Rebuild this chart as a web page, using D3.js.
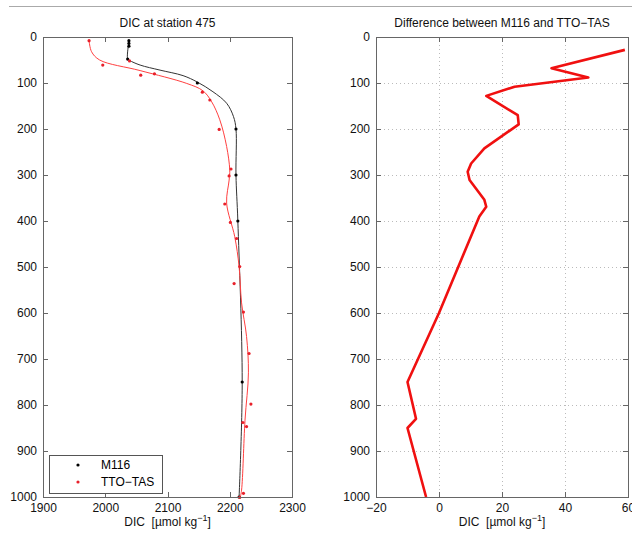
<!DOCTYPE html>
<meta charset="utf-8">
<style>
  body {
    margin: 0;
    background: #fff;
    font-family: 'Liberation Sans', Arial, sans-serif;
  }

  .axis path,
  .axis line {
    fill: none;
    stroke: #666;
    stroke-width: 1;
    shape-rendering: crispEdges;
  }

  .axis text {
    font-size: 12px;
    fill: #111;
  }

  .grid line {
    stroke: #bbb;
    stroke-dasharray: 1, 3;
    shape-rendering: crispEdges;
  }

  .title,
  .axisLabel {
    font-size: 12px;
    fill: #111;
  }
</style>

<body>
  <div id="d3id"></div>
  <script src="https://cdn.jsdelivr.net/npm/d3@7"></script>

  <script>
    // data
    // M116 bottle samples (depth m, DIC umol/kg)
    var m116Depth = [8, 14, 20, 48, 100, 200, 300, 400, 750, 1000];
    var m116DIC = [2038, 2038, 2038, 2036, 2148, 2210, 2210, 2213, 2220, 2215];

    // M116 profile line
    var m116LineDepth = [20, 48, 51, 61, 72, 84, 98, 119, 144, 173, 200, 300, 400, 750, 1000];
    var m116LineDIC = [2037, 2036, 2039, 2056, 2088, 2125, 2148, 2173, 2195, 2206, 2210, 2210, 2213, 2220, 2215];

    // TTO-TAS samples
    var ttoDepth = [8, 52, 61, 80, 83, 120, 137, 201, 287, 302, 363, 403, 438, 499, 536, 598, 688, 798, 838, 847, 992, 1001];
    var ttoDIC = [1974, 2039, 1996, 2079, 2057, 2156, 2168, 2183, 2202, 2199, 2192, 2201, 2211, 2216, 2207, 2222, 2231, 2234, 2221, 2227, 2222, 2216];

    // TTO-TAS smoothed profile line
    var ttoLineDepth = [8, 32, 50, 73, 101, 117, 141, 180, 238, 289, 311, 361, 434, 499, 578, 651, 730, 833, 985, 1000];
    var ttoLineDIC = [1974, 1978, 1991, 2056, 2131, 2157, 2171, 2184, 2195, 2200, 2199, 2195, 2208, 2215, 2219, 2227, 2230, 2224.5, 2219, 2217];

    // difference M116 - TTO-TAS
    var diffDepth = [28, 68, 88, 108, 128, 170, 190, 242, 275, 293, 311, 354, 369, 390, 600, 750, 830, 850, 1000];
    var diffDIC = [59, 35.7, 47.4, 24, 15, 25, 25.3, 14.4, 10.2, 9.1, 9.7, 14.4, 15, 12.8, 0, -10, -7.3, -10, -4.1];

    // ticks
    var depthTicks = [0, 100, 200, 300, 400, 500, 600, 700, 800, 900, 1000];
    var dicTicks = [1900, 2000, 2100, 2200, 2300];
    var diffTicks = [-20, 0, 20, 40, 60];

    var width = 632;
    var height = 540;

    var svg = d3.select('#d3id')
      .append("svg")
      .attr("width", width)
      .attr("height", height);

    // frame line along the top of the figure
    svg.append("line")
      .attr("x1", 9).attr("x2", width)
      .attr("y1", 6.5).attr("y2", 6.5)
      .attr("stroke", "#aaa");

    var plotTop = 37, plotBottom = 497;
    var yScale = d3.scaleLinear().domain([0, 1000]).range([plotTop, plotBottom]);
    var xLeft = d3.scaleLinear().domain([1900, 2300]).range([43, 292]);
    var xRight = d3.scaleLinear().domain([-20, 60]).range([376, 628]);
    var fmt = d3.format("d");

    function pts(ds, vs) {
      return ds.map((d, i) => ({ d: d, v: vs[i] }));
    }

    function drawBox(xScale, ticks) {
      // left axis with labels
      svg.append("g")
        .attr("class", "axis")
        .attr("transform", `translate(${xScale.range()[0]},0)`)
        .call(d3.axisLeft(yScale).tickValues(depthTicks).tickFormat(fmt).tickSizeInner(-5).tickSizeOuter(0).tickPadding(6));
      // right axis, no labels
      svg.append("g")
        .attr("class", "axis")
        .attr("transform", `translate(${xScale.range()[1]},0)`)
        .call(d3.axisRight(yScale).tickValues(depthTicks).tickSizeInner(-5).tickSizeOuter(0).tickFormat(""));
      // bottom axis
      svg.append("g")
        .attr("class", "axis")
        .attr("transform", `translate(0,${plotBottom})`)
        .call(d3.axisBottom(xScale).tickValues(ticks).tickFormat(d => fmt(d).replace("-", "\u2212")).tickSizeInner(-5).tickSizeOuter(0).tickPadding(6));
      // top axis
      svg.append("g")
        .attr("class", "axis")
        .attr("transform", `translate(0,${plotTop})`)
        .call(d3.axisTop(xScale).tickValues(ticks).tickSizeInner(-5).tickSizeOuter(0).tickFormat(""));
    }

    function addLabels(xScale, title) {
      var cx = (xScale.range()[0] + xScale.range()[1]) / 2;
      svg.append("text")
        .attr("class", "title")
        .attr("x", cx)
        .attr("y", 27)
        .attr("text-anchor", "middle")
        .text(title);

      var lab = svg.append("text")
        .attr("class", "axisLabel")
        .attr("x", cx)
        .attr("y", 526)
        .attr("text-anchor", "middle");
      lab.append("tspan").text("DIC\u00a0\u00a0[\u00b5mol kg");
      lab.append("tspan").attr("dy", -5).style("font-size", "9px").text("\u22121");
      lab.append("tspan").attr("dy", 5).text("]");
    }

    // ---------- left panel ----------
    var lineLeft = d3.line()
      .x(p => xLeft(p.v))
      .y(p => yScale(p.d))
      .curve(d3.curveCatmullRom);

    svg.append("path")
      .datum(pts(m116LineDepth, m116LineDIC))
      .attr("d", lineLeft)
      .attr("fill", "none")
      .attr("stroke", "#333")
      .attr("stroke-width", 1);

    svg.append("path")
      .datum(pts(ttoLineDepth, ttoLineDIC))
      .attr("d", lineLeft)
      .attr("fill", "none")
      .attr("stroke", "#ff4040")
      .attr("stroke-width", 1);

    svg.selectAll(".dot.m116")
      .data(pts(m116Depth, m116DIC))
      .enter().append("circle")
      .attr("class", "dot m116")
      .attr("cx", p => xLeft(p.v))
      .attr("cy", p => yScale(p.d))
      .attr("r", 1.6)
      .attr("fill", "#000");

    svg.selectAll(".dot.tto")
      .data(pts(ttoDepth, ttoDIC))
      .enter().append("circle")
      .attr("class", "dot tto")
      .attr("cx", p => xLeft(p.v))
      .attr("cy", p => yScale(p.d))
      .attr("r", 1.6)
      .attr("fill", "#e8202a");

    drawBox(xLeft, dicTicks);
    addLabels(xLeft, "DIC at station 475");

    // handmade legend
    svg.append("rect")
      .attr("x", 49.5).attr("y", 455.5)
      .attr("width", 113).attr("height", 38)
      .attr("fill", "#fff")
      .attr("stroke", "#555");
    svg.append("circle").attr("cx", 78).attr("cy", 465).attr("r", 1.6).attr("fill", "#000");
    svg.append("circle").attr("cx", 78).attr("cy", 482).attr("r", 1.6).attr("fill", "#e8202a");
    svg.append("text").attr("x", 101).attr("y", 469).text("M116").style("font-size", "12px");
    svg.append("text").attr("x", 101).attr("y", 486).text("TTO\u2212TAS").style("font-size", "12px");

    // ---------- right panel ----------
    var grid = svg.append("g").attr("class", "grid");
    grid.selectAll(".gx")
      .data(diffTicks.slice(1, -1))
      .enter().append("line")
      .attr("x1", d => xRight(d)).attr("x2", d => xRight(d))
      .attr("y1", plotTop).attr("y2", plotBottom);
    grid.selectAll(".gy")
      .data(depthTicks.slice(1, -1))
      .enter().append("line")
      .attr("x1", xRight(-20)).attr("x2", xRight(60))
      .attr("y1", d => yScale(d)).attr("y2", d => yScale(d));

    var lineRight = d3.line()
      .x(p => xRight(p.v))
      .y(p => yScale(p.d));

    svg.append("path")
      .datum(pts(diffDepth, diffDIC))
      .attr("d", lineRight)
      .attr("fill", "none")
      .attr("stroke", "#f01010")
      .attr("stroke-width", 2.6)
      .attr("stroke-linejoin", "round");

    drawBox(xRight, diffTicks);
    addLabels(xRight, "Difference between M116 and TTO\u2212TAS");
  </script>
</body>
